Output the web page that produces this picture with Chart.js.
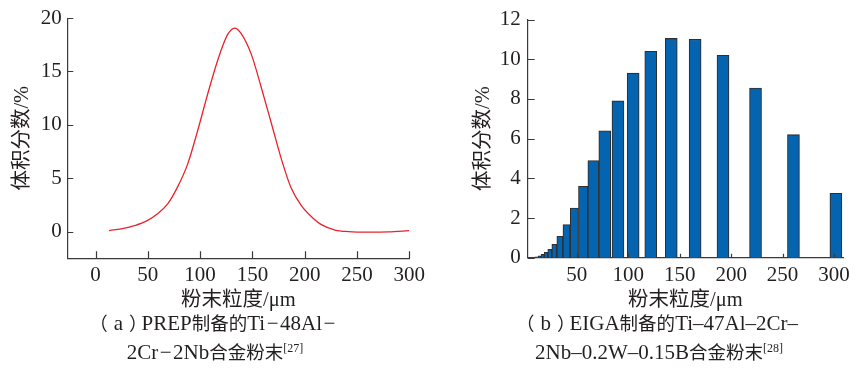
<!DOCTYPE html>
<html>
<head>
<meta charset="utf-8">
<script src="https://cdn.jsdelivr.net/npm/chart.js@4.4.1/dist/chart.umd.min.js"></script>
<style>
  html, body { margin: 0; padding: 0; background: #fff; }
  #wrap { position: relative; width: 860px; height: 375px; overflow: hidden; }
  canvas { position: absolute; top: 0; }
  .caption {
    position: absolute; top: 308px; width: 430px; text-align: center;
    font: 21px/28px "Liberation Serif", serif; color: #231f20;
  }
  .caption .zh { font-family: "Noto Sans CJK SC", sans-serif; font-size: 18.5px; }
  .caption .po { font-family: "Noto Sans CJK SC", sans-serif; font-size: 18.5px; margin: 0 6px 0 -4px; }
  .caption .pc { font-family: "Noto Sans CJK SC", sans-serif; font-size: 18.5px; margin: 0 -6px 0 6px; }
  .caption .d { margin: 0 1.5px; }
  .caption sup { font-size: 12px; line-height: 0; vertical-align: 7px; }
</style>
</head>
<body>
<div id="wrap">
  <canvas id="chart-a" width="430" height="318" style="left:0"></canvas>
  <canvas id="chart-b" width="430" height="318" style="left:430px"></canvas>
  <div class="caption" style="left:0"><span class="po">（</span>a<span class="pc">）</span>PREP<span class="zh">制备的</span>Ti<span class="d">−</span>48Al<span class="d">−</span><br>2Cr<span class="d">−</span>2Nb<span class="zh">合金粉末</span><sup>[27]</sup></div>
  <div class="caption" style="left:444px"><span class="po">（</span>b<span class="pc">）</span>EIGA<span class="zh">制备的</span>Ti–47Al–2Cr–<br>2Nb–0.2W–0.15B<span class="zh">合金粉末</span><sup>[28]</sup></div>
</div>
<script>
// (a) PREP powder: volume fraction curve
var sizeA = [13, 27, 37, 49, 59, 69, 78, 88, 97.5, 107, 117, 126, 133, 139, 149, 158.5, 168, 178, 187, 197, 207, 216, 229, 242, 261, 280, 300];
var fracA = [0.1, 0.3, 0.55, 1.0, 1.65, 2.6, 4.1, 6.3, 9.4, 12.8, 16.1, 18.4, 19.07, 18.6, 16.6, 13.5, 10.2, 6.7, 4.1, 2.4, 1.35, 0.65, 0.15, 0.0, -0.05, -0.03, 0.1];
var xTicksA = [0, 50, 100, 150, 200, 250, 300];
var yTicksA = [0, 5, 10, 15, 20];

// (b) EIGA powder: volume fraction per size class
var sizeB = [3.3, 5.8, 8.2, 11, 13.9, 16.8, 20, 23.6, 27.9, 33.3, 39.8, 47.4, 55.9, 65.6, 76.9, 89.5, 104.2, 121.2, 141, 164, 191, 222.4, 259, 301.8];
var fracB = [0.01, 0.02, 0.03, 0.05, 0.1, 0.17, 0.27, 0.42, 0.67, 1.08, 1.67, 2.5, 3.6, 4.9, 6.4, 7.9, 9.3, 10.4, 11.05, 11.0, 10.2, 8.55, 6.2, 3.25];
var xTicksB = [50, 100, 150, 200, 250, 300];
var yTicksB = [0, 2, 4, 6, 8, 10, 12];

var FONT = '"Liberation Serif", "Noto Sans CJK SC", serif';
var INK = "#231f20";
var AXIS = "#3a3a3a";

Chart.defaults.font.family = FONT;
Chart.defaults.color = INK;

// short tick marks drawn inside the plot, on top of the data
var inwardTicks = {
  id: "inwardTicks",
  afterDraw: function (chart, args, opts) {
    var ctx = chart.ctx;
    var area = chart.chartArea;
    var x = chart.scales.x;
    var y = chart.scales.y;
    ctx.save();
    ctx.strokeStyle = AXIS;
    ctx.lineWidth = 1.2;
    ctx.beginPath();
    x.ticks.forEach(function (t) {
      var px = Math.round(x.getPixelForValue(t.value)) + 0.5;
      ctx.moveTo(px, area.bottom);
      ctx.lineTo(px, area.bottom - opts.x);
    });
    y.ticks.forEach(function (t) {
      var py = Math.round(y.getPixelForValue(t.value)) + 0.5;
      ctx.moveTo(area.left, py);
      ctx.lineTo(area.left + opts.y, py);
    });
    ctx.stroke();
    ctx.restore();
  }
};

function toTicks(list) {
  return function (scale) {
    scale.ticks = list.map(function (v) { return { value: v }; });
  };
}

function makeScales(cfg) {
  return {
    x: {
      type: "linear",
      offset: false,
      min: cfg.xMin,
      max: cfg.xMax,
      afterBuildTicks: toTicks(cfg.xTicks),
      afterFit: function (s) { s.height = 55; },
      grid: { display: false, drawTicks: false },
      border: { color: AXIS, width: 1.2 },
      ticks: { padding: 5, font: { size: 21 }, maxRotation: 0, autoSkip: false },
      title: { display: true, text: "粉末粒度/μm", font: { size: 20.5 }, padding: 0 }
    },
    y: {
      min: cfg.yMin,
      max: cfg.yMax,
      afterBuildTicks: toTicks(cfg.yTicks),
      afterFit: function (s) { s.width = cfg.yWidth; },
      grid: { display: false, drawTicks: false },
      border: { color: AXIS, width: 1.2 },
      ticks: { padding: cfg.yPad, font: { size: 21 } },
      title: { display: true, text: "体积分数/%", font: { size: 20.5 }, padding: 0 }
    }
  };
}

new Chart(document.getElementById("chart-a"), {
  type: "line",
  data: {
    datasets: [{
      data: sizeA.map(function (v, i) { return { x: v, y: fracA[i] }; }),
      borderColor: "#e8232b",
      borderWidth: 1.3,
      pointRadius: 0,
      cubicInterpolationMode: "monotone",
      fill: false
    }]
  },
  options: {
    responsive: false,
    animation: false,
    events: [],
    layout: { padding: { left: 10, right: 8, top: 0, bottom: 4.7 } },
    plugins: { legend: { display: false }, tooltip: { enabled: false }, inwardTicks: { x: 7, y: 6 } },
    scales: makeScales({ xMin: -27, xMax: 300, xTicks: xTicksA, yMin: -2.5, yMax: 20, yTicks: yTicksA, yWidth: 57.3, yPad: 5.5 })
  },
  plugins: [inwardTicks]
});

new Chart(document.getElementById("chart-b"), {
  type: "bar",
  data: {
    datasets: [{
      data: sizeB.map(function (v, i) { return { x: v, y: fracB[i] }; }),
      backgroundColor: "#0564b0",
      borderColor: "#2f2f2f",
      borderWidth: 1.1,
      barThickness: "flex",
      maxBarThickness: 12,
      categoryPercentage: 1,
      barPercentage: 1
    }]
  },
  options: {
    responsive: false,
    animation: false,
    events: [],
    layout: { padding: { left: 41.5, right: 17, top: 0, bottom: 5.3 } },
    plugins: { legend: { display: false }, tooltip: { enabled: false }, inwardTicks: { x: 4, y: 7 } },
    scales: makeScales({ xMin: 2.3, xMax: 308.7, xTicks: xTicksB, yMin: 0, yMax: 12, yTicks: yTicksB, yWidth: 56.2, yPad: 7 })
  },
  plugins: [inwardTicks]
});
</script>
</body>
</html>
